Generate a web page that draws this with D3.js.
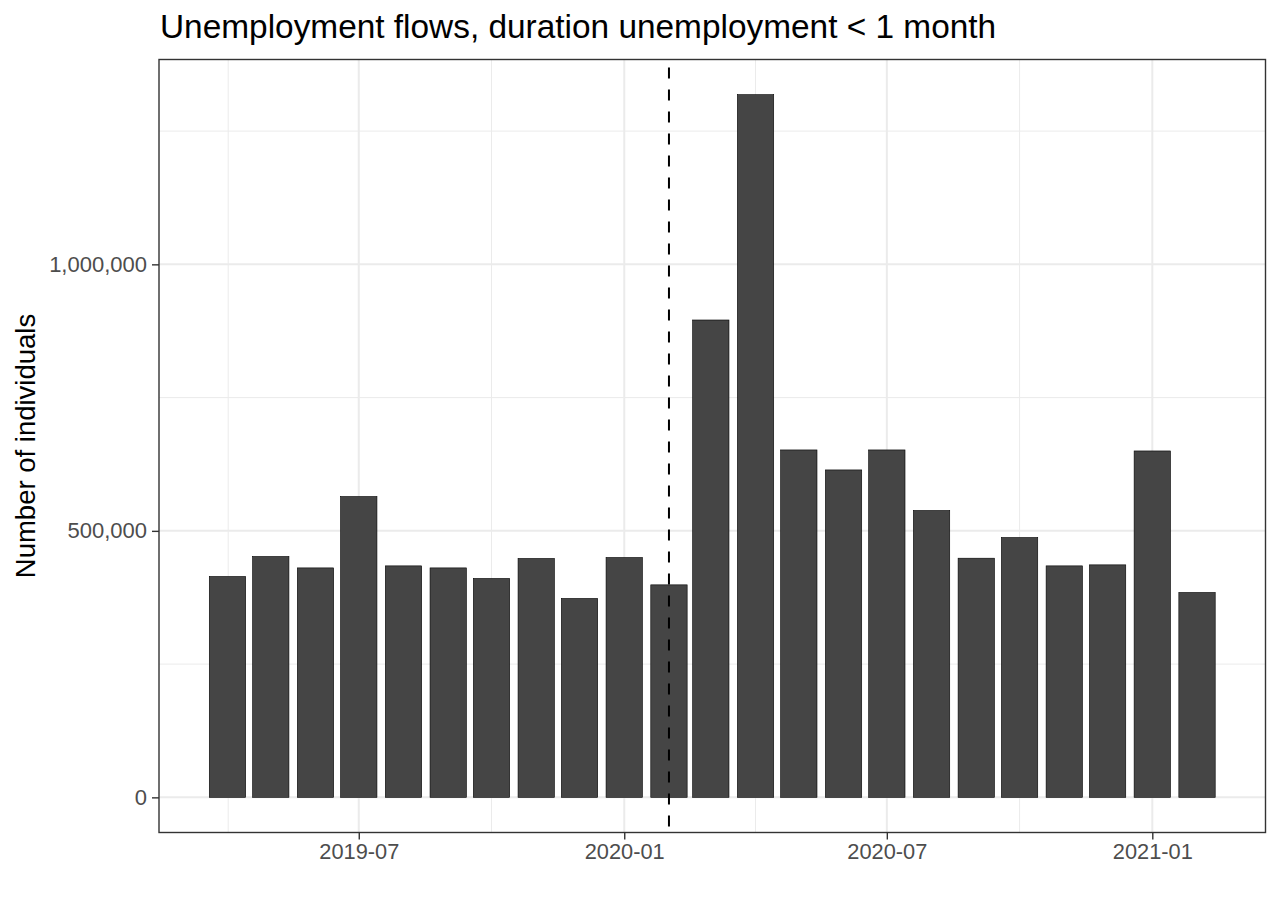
<!DOCTYPE html>
<html>
<head>
<meta charset="utf-8">
<script src="https://cdn.jsdelivr.net/npm/d3@7"></script>
<style>
  html, body { margin: 0; padding: 0; background: #ffffff; }
  svg { display: block; }
  text { font-family: "Liberation Sans", Arial, Helvetica, sans-serif; }
</style>
</head>
<body>
<svg id="chart" width="1280" height="914"></svg>
<script>
// ---- Data ----
const months = ["2019-04","2019-05","2019-06","2019-07","2019-08","2019-09","2019-10","2019-11","2019-12",
                "2020-01","2020-02","2020-03","2020-04","2020-05","2020-06","2020-07","2020-08","2020-09",
                "2020-10","2020-11","2020-12","2021-01","2021-02"];
const flows = [414400, 451900, 430500, 564400, 434300, 430500, 410700, 448200, 373200,
               450000, 398700, 895600, 1318400, 651800, 614300, 651800, 538200, 448700,
               487500, 434300, 436200, 649900, 384400];
const xTickLabels = ["2019-07","2020-01","2020-07","2021-01"];
const xOuterBreaks = ["2019-01","2021-07"];
const yTicks = [0, 500000, 1000000];
const yMinorTicks = [250000, 750000, 1250000];
const markerMonth = "2020-02";
const titleText = "Unemployment flows, duration unemployment < 1 month";
const yTitleText = "Number of individuals";

// ---- Layout ----
const panel = { left: 159, top: 59.5, right: 1265.5, bottom: 832.5 };
const parse = d3.utcParse("%Y-%m");
const DAY = 864e5;
const dates = months.map(parse);
const barDays = 0.9 * 28;

const svg = d3.select("#chart");

const dMin = +d3.min(dates) - barDays / 2 * DAY;
const dMax = +d3.max(dates) + barDays / 2 * DAY;
const dPad = (dMax - dMin) * 0.05;
const x = d3.scaleUtc()
  .domain([new Date(dMin - dPad), new Date(dMax + dPad)])
  .range([panel.left, panel.right]);

const yMax = d3.max(flows);
const y = d3.scaleLinear()
  .domain([-yMax * 0.05, yMax * 1.05])
  .range([panel.bottom, panel.top]);

const barW = x(new Date(+dates[0] + barDays * DAY)) - x(dates[0]);

// ---- Grid ----
const grid = svg.append("g");
const majorDates = [xOuterBreaks[0], ...xTickLabels, xOuterBreaks[1]].map(parse);
const minorDates = d3.pairs(majorDates).map(([a, b]) => new Date((+a + +b) / 2))
  .filter(d => x(d) > panel.left && x(d) < panel.right);

grid.selectAll(".ymin").data(yMinorTicks).join("line")
  .attr("x1", panel.left).attr("x2", panel.right)
  .attr("y1", d => y(d)).attr("y2", d => y(d))
  .attr("stroke", "#ebebeb").attr("stroke-width", 1);
grid.selectAll(".xmin").data(minorDates).join("line")
  .attr("x1", d => x(d)).attr("x2", d => x(d))
  .attr("y1", panel.top).attr("y2", panel.bottom)
  .attr("stroke", "#ebebeb").attr("stroke-width", 1);
grid.selectAll(".ymaj").data(yTicks).join("line")
  .attr("x1", panel.left).attr("x2", panel.right)
  .attr("y1", d => y(d)).attr("y2", d => y(d))
  .attr("stroke", "#ebebeb").attr("stroke-width", 2);
grid.selectAll(".xmaj").data(xTickLabels.map(parse)).join("line")
  .attr("x1", d => x(d)).attr("x2", d => x(d))
  .attr("y1", panel.top).attr("y2", panel.bottom)
  .attr("stroke", "#ebebeb").attr("stroke-width", 2);

// ---- Bars ----
svg.append("g").selectAll("rect").data(months).join("rect")
  .attr("x", (d, i) => x(dates[i]) - barW / 2)
  .attr("width", barW)
  .attr("y", (d, i) => y(flows[i]))
  .attr("height", (d, i) => y(0) - y(flows[i]))
  .attr("fill", "#454545")
  .attr("stroke", "#000000")
  .attr("stroke-width", 0.6);

// ---- Dashed reference line ----
svg.append("line")
  .attr("x1", x(parse(markerMonth))).attr("x2", x(parse(markerMonth)))
  .attr("y1", panel.top + 8).attr("y2", panel.bottom)
  .attr("stroke", "#000").attr("stroke-width", 2)
  .attr("stroke-dasharray", "11,11");

// ---- Panel border ----
svg.append("rect")
  .attr("x", panel.left).attr("y", panel.top)
  .attr("width", panel.right - panel.left).attr("height", panel.bottom - panel.top)
  .attr("fill", "none").attr("stroke", "#333333").attr("stroke-width", 1.4);

// ---- Axes ----
const xAxis = d3.axisBottom(x)
  .tickValues(xTickLabels.map(parse))
  .tickFormat(d3.utcFormat("%Y-%m"))
  .tickSize(7).tickPadding(4);
const gx = svg.append("g").attr("transform", `translate(0,${panel.bottom})`).call(xAxis);
gx.select(".domain").remove();
gx.selectAll(".tick line").attr("stroke", "#333333").attr("stroke-width", 1.4);
gx.selectAll(".tick text").attr("fill", "#4d4d4d").style("font-size", "21.8px")
  .style("font-family", "'Liberation Sans', Arial, sans-serif");

const yAxis = d3.axisLeft(y)
  .tickValues(yTicks)
  .tickFormat(d3.format(","))
  .tickSize(7).tickPadding(5);
const gy = svg.append("g").attr("transform", `translate(${panel.left},0)`).call(yAxis);
gy.select(".domain").remove();
gy.selectAll(".tick line").attr("stroke", "#333333").attr("stroke-width", 1.4);
gy.selectAll(".tick text").attr("fill", "#4d4d4d").style("font-size", "22px")
  .style("font-family", "'Liberation Sans', Arial, sans-serif");

// ---- Titles ----
svg.append("text")
  .attr("x", 160).attr("y", 38)
  .attr("fill", "#000")
  .style("font-size", "33.4px")
  .text(titleText);

svg.append("text")
  .attr("transform", `translate(35,${(panel.top + panel.bottom) / 2}) rotate(-90)`)
  .attr("text-anchor", "middle")
  .attr("fill", "#000")
  .style("font-size", "27.5px")
  .text(yTitleText);
</script>
</body>
</html>
